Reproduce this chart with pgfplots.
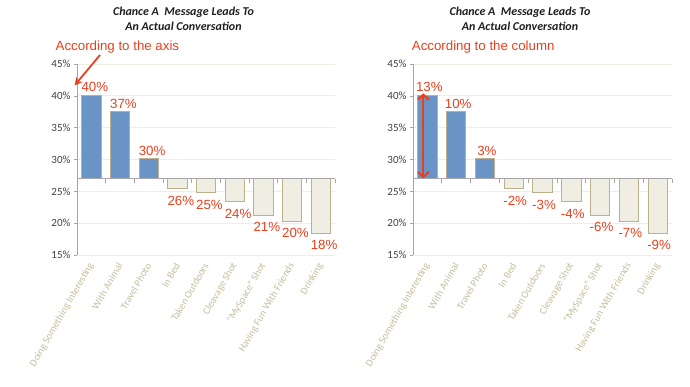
\documentclass[border=0pt]{standalone}
\usepackage{fontspec}
\setmainfont{Carlito}
\newfontfamily\arialf{Liberation Sans}
\usepackage{pgfplots}
\pgfplotsset{compat=1.18}
\usetikzlibrary{arrows.meta}
\definecolor{barblue}{HTML}{6A93C6}
\definecolor{barbeige}{HTML}{F0EDE3}
\definecolor{bartan}{HTML}{BDB08E}
\definecolor{annred}{HTML}{E8401C}
\definecolor{gridc}{HTML}{EEEDE6}
\definecolor{axisgray}{HTML}{A6A6A6}
\definecolor{ticklab}{HTML}{404040}
\definecolor{catlab}{HTML}{C6BD9B}
\definecolor{titlec}{HTML}{1E1E1E}

\pgfplotsset{
  chancebase/.style={
    scale only axis, width=258pt, height=191pt,
    xmin=-0.5, xmax=8.5, ymin=15, ymax=45,
    y coord trafo/.code={\pgfmathparse{##1-27}},
    y coord inv trafo/.code={\pgfmathparse{##1+27}},
    ybar, bar width=0.67, /pgf/bar shift=0pt,
    axis lines*=left,
    x axis line style={draw=none},
    y axis line style={axisgray, line width=0.8pt},
    xtick={0,...,8},
    xticklabels={Doing Something  Interesting, With Animal, Travel Photo, In Bed, Taken Outdoors, Cleavage Shot, “MySpace” Shot, Having Fun With Friends, Drinking},
    xtick style={draw=none},
    xticklabel style={rotate=60, anchor=east, xshift=-1.5pt, yshift=-3pt, font=\fontsize{10.2}{12}\selectfont, text=catlab},
    ytick={15,20,25,30,35,40,45},
    yticklabels={15\%,20\%,25\%,30\%,35\%,40\%,45\%},
    yticklabel style={font=\fontsize{11}{13}\selectfont, text=ticklab},
    ytick style={axisgray, line width=0.6pt},
    tick align=outside, major tick length=3pt,
    ymajorgrids, grid style={gridc, line width=0.8pt},
    /pgf/number format/assume math mode=true,
    point meta=explicit symbolic,
    clip=false,
  },
  posbar/.style={fill=barblue, draw=bartan, line width=0.8pt,
    nodes near coords={\pgfplotspointmeta\%},
    every node near coord/.append style={anchor=base, xshift=#1, yshift=3.5pt, inner sep=0pt,
      font=\arialf\fontsize{13.3}{15}\selectfont, text=annred}},
  negbar/.style={fill=barbeige, draw=bartan, line width=0.8pt,
    nodes near coords={\pgfplotspointmeta\%},
    every node near coord/.append style={anchor=base, xshift=#1, yshift=-16.5pt, inner sep=0pt,
      font=\arialf\fontsize{13.3}{15}\selectfont, text=annred}},
}

\begin{document}
\begin{tikzpicture}
\path[use as bounding box] (0pt,0pt) rectangle (690pt,386pt);

% ---------------- left chart ----------------
\begin{axis}[chancebase, at={(77pt,131pt)}, anchor=south west]
\addplot[posbar=3.5pt] table[x=x, y=y, meta=lab] {
x y lab
0 40.1 40
1 37.5 37
2 30.1 30
};
\addplot[negbar=3.5pt] table[x=x, y=y, meta=lab] {
x y lab
3 25.4 26
4 24.8 25
5 23.35 24
6 21.25 21
7 20.3 20
8 18.4 18
};
\draw[axisgray, line width=0.8pt] (axis cs:-0.5,27) -- (axis cs:8.5,27);
\pgfplotsinvokeforeach{0.5,1.5,2.5,3.5,4.5,5.5,6.5,7.5,8.5}{
  \draw[axisgray, line width=0.6pt] (axis cs:#1,27) -- ++(0pt,-4pt);
}
\end{axis}

% ---------------- right chart ----------------
\begin{axis}[chancebase, at={(413pt,131pt)}, anchor=south west, width=259pt]
\addplot[posbar=2pt] table[x=x, y=y, meta=lab] {
x y lab
0 40.1 13
1 37.5 10
2 30.1 3
};
\addplot[negbar=1.5pt] table[x=x, y=y, meta=lab] {
x y lab
3 25.4 -2
4 24.8 -3
5 23.35 -4
6 21.25 -6
7 20.3 -7
8 18.4 -9
};
\draw[axisgray, line width=0.8pt] (axis cs:-0.5,27) -- (axis cs:8.5,27);
\pgfplotsinvokeforeach{0.5,1.5,2.5,3.5,4.5,5.5,6.5,7.5,8.5}{
  \draw[axisgray, line width=0.6pt] (axis cs:#1,27) -- ++(0pt,-4pt);
}
\end{axis}

% ---------------- titles ----------------
\node[font=\fontsize{12}{14}\selectfont\bfseries\itshape, text=titlec] at (183.5pt,373.7pt) {Chance A\ \ Message Leads To};
\node[font=\fontsize{12}{14}\selectfont\bfseries\itshape, text=titlec] at (183.5pt,359.3pt) {An Actual Conversation};
\node[font=\fontsize{12}{14}\selectfont\bfseries\itshape, text=titlec] at (520pt,373.7pt) {Chance A\ \ Message Leads To};
\node[font=\fontsize{12}{14}\selectfont\bfseries\itshape, text=titlec] at (520pt,359.3pt) {An Actual Conversation};

% ---------------- annotations ----------------
\node[anchor=west, inner sep=0pt, font=\arialf\fontsize{13.3}{15}\selectfont, text=annred] at (55.5pt,338.5pt) {According to the axis};
\node[anchor=west, inner sep=0pt, font=\arialf\fontsize{13.3}{15}\selectfont, text=annred] at (411.7pt,338.5pt) {According to the column};
\draw[annred, line width=1.8pt, -{Stealth[length=8pt,width=8pt]}] (100pt,331pt) -- (74.5pt,300.5pt);
\draw[annred, line width=2pt, {Straight Barb[length=5pt,width=11pt]}-{Straight Barb[length=5pt,width=11pt]}] (423.3pt,292.7pt) -- (423.3pt,207.7pt);
\end{tikzpicture}
\end{document}
